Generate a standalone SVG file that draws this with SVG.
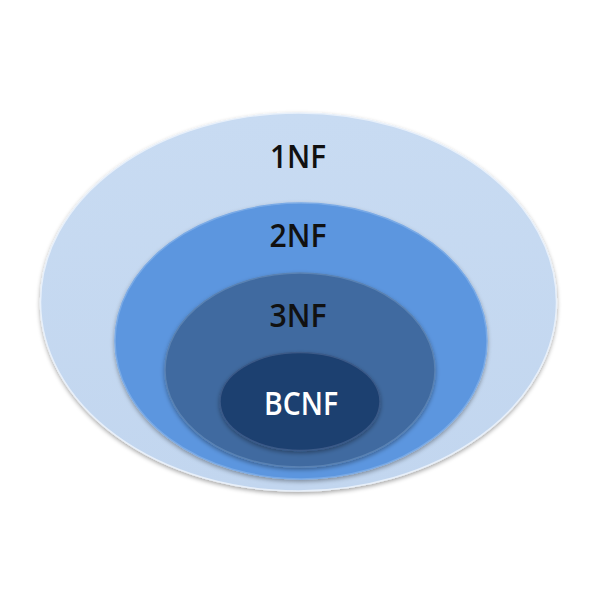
<svg xmlns="http://www.w3.org/2000/svg" width="591" height="591" viewBox="0 0 591 591">
  <defs>
    <filter id="sh" x="-10%" y="-10%" width="120%" height="125%">
      <feDropShadow dx="0" dy="2" stdDeviation="2" flood-color="#000" flood-opacity="0.35"/>
    </filter>
    <linearGradient id="g1" x1="0" y1="0" x2="0" y2="1">
      <stop offset="0" stop-color="#C8DBF2"/>
      <stop offset="1" stop-color="#C2D6EF"/>
    </linearGradient>
  </defs>
  <style>
    .lbl { font-family: "Open Sans", "Liberation Sans", sans-serif; font-size: 33px; font-weight: 600; text-anchor: middle; }
    .dark { fill: #111; }
    .light { fill: #fff; }
  </style>
  <rect width="591" height="591" fill="#fff"/>
  <g id="n1nf">
    <ellipse cx="298.5" cy="302" rx="258" ry="189" fill="url(#g1)" stroke="#E8F0FA" stroke-width="1.5" filter="url(#sh)"/>
    <text class="lbl dark" x="298" y="168" textLength="56" lengthAdjust="spacingAndGlyphs">1NF</text>
  </g>
  <g id="n2nf">
    <ellipse cx="301" cy="341" rx="186" ry="138" fill="#5B96DF" stroke="#7AAAE6" stroke-width="1.5" filter="url(#sh)"/>
    <text class="lbl dark" x="298" y="247" textLength="57" lengthAdjust="spacingAndGlyphs">2NF</text>
  </g>
  <g id="n3nf">
    <ellipse cx="300" cy="370" rx="135" ry="97" fill="#3F6AA0" stroke="#5A82B3" stroke-width="1.5" filter="url(#sh)"/>
    <text class="lbl dark" x="298" y="327" textLength="57" lengthAdjust="spacingAndGlyphs">3NF</text>
  </g>
  <g id="nbcnf">
    <ellipse cx="300" cy="401.5" rx="80" ry="49" fill="#1F3F6F" stroke="#3A5A88" stroke-width="1.5" filter="url(#sh)"/>
    <text class="lbl light" x="301" y="415" textLength="74" lengthAdjust="spacingAndGlyphs">BCNF</text>
  </g>
  <g id="connectors"/>
</svg>
